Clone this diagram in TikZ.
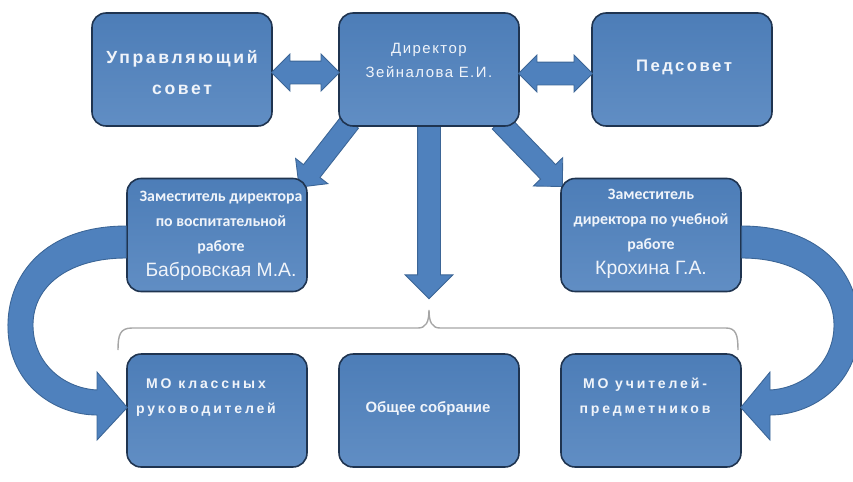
\documentclass[tikz,border=0pt]{standalone}
\usepackage{fontspec}
\setmainfont{Liberation Sans}
\newfontfamily\widefont[LetterSpace=15]{Liberation Sans}
\newfontfamily\dirfont[LetterSpace=10]{Liberation Sans}
\newfontfamily\mofont[LetterSpace=20]{Liberation Sans}
\newfontfamily\calfont{Carlito}
\usetikzlibrary{shapes.arrows,calc,backgrounds}

\definecolor{boxblue}{HTML}{4F81BD}
\definecolor{boxedge}{HTML}{1F3450}
\definecolor{arrowedge}{HTML}{3B6596}
\definecolor{boxtext}{HTML}{F0F4FA}
\definecolor{bracegray}{HTML}{A6A6A6}

\tikzset{
  box/.style={draw=boxedge, line width=0.9pt, rounded corners=0.28cm,
    top color=boxblue!97!black, bottom color=boxblue!90!white,
    minimum width=3.6cm, minimum height=2.26cm, inner sep=0pt},
  boxlabel/.style={text=boxtext, align=center, inner sep=0pt},
  blockarrow/.style={single arrow, fill=boxblue, draw=arrowedge, line width=0.5pt,
    inner sep=0.2cm, single arrow head extend=0.2cm, outer sep=0pt},
  twoway/.style={double arrow, fill=boxblue, draw=arrowedge, line width=0.5pt,
    inner sep=0.22cm, double arrow head extend=0.14cm, outer sep=0pt},
  bendarrow/.style={fill=boxblue, draw=arrowedge, line width=0.5pt}
}

\begin{document}
\begin{tikzpicture}[x=0.02cm, y=-0.02cm]
  \useasboundingbox (0,0) rectangle (853,481);
  \clip (0,0) rectangle (853,481);

  % Boxes
  \foreach \n/\x/\y in {uc/182/69.5, dir/429/69.5, ped/682/69.5,
                        zv/217/235, zu/651/235,
                        mok/217/410.5, obs/429/410.5, mou/651/410.5}
    \node[box] (\n) at (\x,\y) {};

  % Box texts
  \node[boxlabel, font=\widefont\bfseries\fontsize{10}{17.6}\selectfont]
    (uc-t) at ($(uc)+(0,3)$) {Управляющий\\совет};
  \node[boxlabel, font=\dirfont\fontsize{8.5}{13.6}\selectfont]
    (dir-t) at ($(dir)+(0,-9)$) {Директор\\Зейналова Е.И.};
  \node[boxlabel, font=\widefont\bfseries\fontsize{9.5}{17.6}\selectfont]
    (ped-t) at ($(ped)+(2,-2)$) {Педсовет};
  \node[boxlabel, font=\calfont\bfseries\fontsize{9}{14.2}\selectfont]
    (zv-t) at ($(zv)+(4,1)$) {Заместитель директора\\по воспитательной\\работе\\
    {\normalfont\fontsize{11}{14.2}\selectfont Бабровская М.А.}};
  \node[boxlabel, font=\calfont\bfseries\fontsize{9}{14.2}\selectfont]
    (zu-t) at ($(zu)+(0,-1)$) {Заместитель\\директора по учебной\\работе\\
    {\normalfont\fontsize{11}{14.2}\selectfont Крохина Г.А.}};
  \node[boxlabel, font=\mofont\bfseries\fontsize{8}{14.2}\selectfont]
    (mok-t) at ($(mok)+(-11,-13)$) {МО классных\\руководителей};
  \node[boxlabel, font=\bfseries\fontsize{8.5}{12}\selectfont]
    (obs-t) at ($(obs)+(-1,-2)$) {Общее собрание};
  \node[boxlabel, font=\mofont\bfseries\fontsize{8}{14.2}\selectfont]
    (mou-t) at ($(mou)+(-6,-13)$) {МО учителей-\\предметников};

  % Two-way arrows
  \node[twoway, minimum height=1.36cm] (uc-dir) at ($(uc.east)!0.5!(dir.west)+(0,3)$) {};
  \node[twoway, minimum height=1.48cm] (dir-ped) at ($(dir.east)!0.5!(ped.west)+(0,4)$) {};

  % Arrows from the director
  \begin{scope}[on background layer]
    \node[blockarrow, rotate=-128, minimum height=1.66cm, anchor=tail]
      (dir-zv) at ($(dir.south west)+(12,-5)$) {};
    \node[blockarrow, rotate=-46, minimum height=1.8cm, anchor=tail]
      (dir-zu) at ($(dir.south east)+(-20,-5)$) {};
    \node[blockarrow, rotate=-90, minimum height=3.5cm, anchor=tail,
      inner sep=0.22cm, single arrow head extend=0.25cm]
      (dir-down) at ($(dir.south)+(0,-3)$) {};
  \end{scope}

  % Bent arrows
  \draw[bendarrow] ($(zv.west)+(0,-9)$) .. controls (45,226) and (6,275) .. (8,330)
    .. controls (10,385) and (55,415) .. (97,415) -- (97,440) -- ($(mok.west)+(1,-3)$)
    -- (97,372) -- (97,390) .. controls (62,388) and (33,362) .. (33,325)
    .. controls (33,285) and (70,258) .. ($(zv.west)+(0,23)$) -- cycle;
  \draw[bendarrow] ($(zu.east)+(0,-9)$) .. controls (822,226) and (861,275) .. (859,330)
    .. controls (857,385) and (812,415) .. (770,415) -- (770,440) -- ($(mou.east)+(-1,-3)$)
    -- (770,372) -- (770,390) .. controls (805,388) and (834,362) .. (834,325)
    .. controls (834,285) and (797,258) .. ($(zu.east)+(0,23)$) -- cycle;

  % Brace
  \coordinate (bracetip) at (429,310);
  \draw[bracegray, line width=0.8pt] (118,350) .. controls (118,335) and (120,328) .. (132,328)
    -- (418,328) .. controls (426,328) and (429,322) .. (bracetip)
    .. controls (429,322) and (432,328) .. (440,328) -- (726,328)
    .. controls (736,328) and (738,335) .. (738,350);
\end{tikzpicture}
\end{document}
